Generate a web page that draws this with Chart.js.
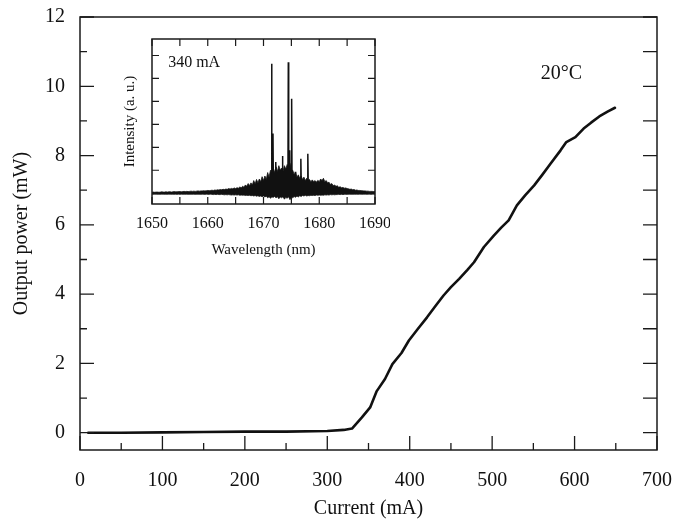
<!DOCTYPE html>
<html><head><meta charset="utf-8">
<script src="https://cdn.jsdelivr.net/npm/chart.js@4.4.0/dist/chart.umd.min.js"></script>
<style>
html,body{margin:0;padding:0;background:#fff;overflow:hidden}
#wrap{position:relative;width:689px;height:521px;background:#fff}
#main{position:absolute;left:0;top:0;width:689px;height:521px}
#inset{position:absolute;left:115px;top:30px;width:275px;height:235px}
</style></head><body>
<div id="wrap"><canvas id="main" width="689" height="521"></canvas><canvas id="inset" width="275" height="235"></canvas></div>
<script>
// ---- main L-I curve data ----
const currentMA = [10, 50, 100, 150, 200, 250, 300, 320, 330, 342, 352, 360, 370, 379, 390, 399, 410, 421, 431, 441, 450, 460, 470, 478, 490, 502, 511, 520, 530, 540, 551, 561, 571, 583, 590, 601, 611, 620, 630, 640, 649];
const powerMW   = [0, 0, 0.01, 0.02, 0.03, 0.03, 0.05, 0.08, 0.12, 0.44, 0.73, 1.2, 1.55, 1.98, 2.3, 2.66, 3.0, 3.33, 3.65, 3.96, 4.2, 4.44, 4.7, 4.92, 5.36, 5.69, 5.92, 6.13, 6.56, 6.85, 7.14, 7.45, 7.77, 8.15, 8.39, 8.53, 8.78, 8.95, 9.13, 9.27, 9.38];
const xTickValues = [0, 100, 200, 300, 400, 500, 600, 700];
const yTickValues = [0, 2, 4, 6, 8, 10, 12];
const xTitle = 'Current (mA)';
const yTitle = 'Output power (mW)';
const tempLabel = '20°C';
const tempLabelAt = [584, 10.36];

// ---- inset spectrum data (340 mA) ----
const wlStart = 1650, wlStep = 0.25;
const specTop = [
 0.04,0.05,0.04,0.05,0.05,0.04,0.05,0.06,0.05,0.05,0.06,0.05,0.06,0.06,0.05,0.06,0.07,0.06,0.06,0.07,0.07,
 0.06,0.07,0.08,0.07,0.08,0.07,0.08,0.09,0.08,0.09,0.08,0.09,0.10,0.09,0.10,0.10,0.11,0.10,0.11,0.12,
 0.11,0.12,0.13,0.12,0.14,0.13,0.15,0.14,0.16,0.15,0.17,0.16,0.18,0.17,0.20,0.18,0.21,0.19,0.23,0.20,
 0.24,0.22,0.27,0.24,0.30,0.26,0.36,0.30,0.42,0.33,0.45,0.36,0.55,0.40,0.60,0.45,0.62,0.50,0.72,0.55,
 0.75,0.60,0.90,0.70,1.00,0.85,1.10,0.90,1.15,0.95,1.20,1.00,1.10,0.95,1.20,1.05,1.25,1.10,1.30,1.00,
 1.00,0.80,0.90,0.70,0.80,0.65,0.75,0.60,0.70,0.55,0.65,0.55,0.60,0.50,0.58,0.50,0.55,0.48,0.56,0.50,
 0.62,0.55,0.65,0.50,0.55,0.45,0.48,0.38,0.42,0.33,0.36,0.30,0.32,0.26,0.28,0.24,0.25,0.22,0.23,0.20,
 0.19,0.17,0.18,0.15,0.16,0.13,0.14,0.12,0.12,0.11,0.11,0.10,0.10,0.09,0.09,0.08,0.08,0.08,0.07,0.07
];
const specBottom = [
 -0.04,-0.05,-0.04,-0.04,-0.05,-0.04,-0.05,-0.04,-0.04,-0.05,-0.04,-0.05,-0.04,-0.04,-0.05,-0.04,-0.05,-0.04,-0.05,-0.04,-0.05,
 -0.04,-0.05,-0.04,-0.05,-0.04,-0.05,-0.05,-0.04,-0.05,-0.04,-0.05,-0.05,-0.04,-0.05,-0.05,-0.04,-0.05,-0.05,-0.04,-0.05,
 -0.05,-0.04,-0.05,-0.06,-0.05,-0.06,-0.05,-0.06,-0.06,-0.05,-0.06,-0.07,-0.06,-0.07,-0.06,-0.07,-0.08,-0.07,-0.08,-0.07,
 -0.08,-0.07,-0.09,-0.08,-0.09,-0.08,-0.10,-0.09,-0.10,-0.09,-0.11,-0.10,-0.12,-0.10,-0.13,-0.11,-0.14,-0.12,-0.15,-0.12,
 -0.16,-0.13,-0.20,-0.15,-0.22,-0.16,-0.18,-0.14,-0.20,-0.15,-0.24,-0.16,-0.20,-0.15,-0.26,-0.18,-0.22,-0.15,-0.28,-0.16,
 -0.20,-0.14,-0.18,-0.12,-0.16,-0.11,-0.14,-0.10,-0.12,-0.09,-0.12,-0.10,-0.11,-0.09,-0.10,-0.09,-0.10,-0.08,-0.09,-0.08,
 -0.09,-0.08,-0.09,-0.07,-0.08,-0.07,-0.08,-0.06,-0.07,-0.06,-0.07,-0.06,-0.06,-0.05,-0.06,-0.05,-0.06,-0.05,-0.05,-0.05,
 -0.05,-0.04,-0.05,-0.05,-0.04,-0.05,-0.04,-0.05,-0.04,-0.04,-0.05,-0.04,-0.04,-0.05,-0.04,-0.04,-0.05,-0.04,-0.04,-0.04
];
const peakWl = [1671.45, 1671.7, 1672.2, 1673.4, 1674.45, 1674.7, 1675.05, 1675.7, 1676.7, 1677.95];
const peakH  = [5.64, 2.6, 1.36, 1.62, 5.71, 1.87, 4.12, 0.93, 1.5, 1.72];
const insetXTicks = [1650, 1660, 1670, 1680, 1690];
const insetXTitle = 'Wavelength (nm)';
const insetYTitle = 'Intensity (a. u.)';
const insetLabel = '340 mA';
const insetLabelAt = [1652.9, 5.7];

const SERIF = '"Liberation Serif", "Times New Roman", Times, serif';
const INK = '#111';

function noOverhang(s) { s.paddingLeft = 0; s.paddingRight = 0; s.paddingTop = 0; s.paddingBottom = 0; }

// ---------- main chart ----------
const mainFrame = {
  id: 'mainFrame',
  afterDraw(chart) {
    const {ctx, chartArea: a, scales: {x, y}} = chart;
    ctx.save();
    ctx.strokeStyle = '#1a1a1a';
    ctx.lineWidth = 1.5;
    ctx.strokeRect(a.left, a.top, a.right - a.left, a.bottom - a.top);
    ctx.lineWidth = 1.3;
    ctx.beginPath();
    for (let v = 0; v <= 700; v += 50) {
      const px = x.getPixelForValue(v);
      const L = v % 100 === 0 ? 14 : 7;
      ctx.moveTo(px, a.bottom); ctx.lineTo(px, a.bottom - L);
    }
    for (let v = 0; v <= 12; v += 1) {
      const py = y.getPixelForValue(v);
      const L = v % 2 === 0 ? 14 : 7;
      ctx.moveTo(a.left, py); ctx.lineTo(a.left + L, py);
      ctx.moveTo(a.right, py); ctx.lineTo(a.right - 14, py);
    }
    ctx.stroke();
    ctx.font = '20px ' + SERIF;
    ctx.fillStyle = INK;
    ctx.textAlign = 'center';
    ctx.textBaseline = 'middle';
    ctx.fillText(tempLabel, x.getPixelForValue(tempLabelAt[0]), y.getPixelForValue(tempLabelAt[1]));
    ctx.restore();
  }
};

new Chart(document.getElementById('main'), {
  type: 'line',
  data: {
    datasets: [{
      data: currentMA.map((c, i) => ({x: c, y: powerMW[i]})),
      borderColor: INK, borderWidth: 2.6, pointRadius: 0, tension: 0, fill: false,
      borderJoinStyle: 'round', borderCapStyle: 'round'
    }]
  },
  options: {
    responsive: false, animation: false, devicePixelRatio: 1,
    layout: {padding: {top: 17, right: 32, left: 0, bottom: 0}},
    plugins: {legend: {display: false}, tooltip: {enabled: false}},
    scales: {
      x: {
        type: 'linear', min: 0, max: 700,
        afterFit(s) { s.height = 71; noOverhang(s); },
        afterBuildTicks(s) { s.ticks = xTickValues.map(v => ({value: v})); },
        grid: {display: false, drawTicks: false}, border: {display: false},
        ticks: {font: {family: SERIF, size: 20}, color: INK, padding: 19, maxRotation: 0, autoSkip: false, callback: v => String(v)},
        title: {display: true, text: xTitle, font: {family: SERIF, size: 20}, color: INK, padding: {top: 0, bottom: 0}}
      },
      y: {
        type: 'linear', min: -0.5, max: 12,
        afterFit(s) { s.width = 80; noOverhang(s); },
        afterBuildTicks(s) { s.ticks = yTickValues.map(v => ({value: v})); },
        grid: {display: false, drawTicks: false}, border: {display: false},
        ticks: {font: {family: SERIF, size: 20}, color: INK, padding: 15, autoSkip: false, callback: v => String(v)},
        title: {display: true, text: yTitle, font: {family: SERIF, size: 20}, color: INK, padding: {top: 10, bottom: 0}}
      }
    }
  },
  plugins: [mainFrame]
});

// ---------- inset chart ----------
const wavelengths = specTop.map((_, i) => wlStart + i * wlStep);
const spikes = [];
peakWl.forEach((w, i) => {
  spikes.push({x: w - 0.07, y: 0.4}, {x: w, y: peakH[i]}, {x: w + 0.07, y: 0.4}, {x: w, y: null});
});

const insetFrame = {
  id: 'insetFrame',
  afterDraw(chart) {
    const {ctx, chartArea: a, scales: {x, y}} = chart;
    ctx.save();
    ctx.strokeStyle = '#1a1a1a';
    ctx.lineWidth = 1.5;
    ctx.strokeRect(a.left, a.top, a.right - a.left, a.bottom - a.top);
    ctx.lineWidth = 1.2;
    ctx.beginPath();
    for (let v = 1650; v <= 1690; v += 5) {
      const px = x.getPixelForValue(v);
      ctx.moveTo(px, a.bottom); ctx.lineTo(px, a.bottom - 7);
      ctx.moveTo(px, a.top); ctx.lineTo(px, a.top + 7);
    }
    for (let v = 0; v <= 6; v += 1) {
      const py = y.getPixelForValue(v);
      ctx.moveTo(a.left, py); ctx.lineTo(a.left + 7, py);
      ctx.moveTo(a.right, py); ctx.lineTo(a.right - 7, py);
    }
    ctx.stroke();
    ctx.font = '16px ' + SERIF;
    ctx.fillStyle = INK;
    ctx.textAlign = 'left';
    ctx.textBaseline = 'middle';
    ctx.fillText(insetLabel, x.getPixelForValue(insetLabelAt[0]), y.getPixelForValue(insetLabelAt[1]));
    ctx.restore();
  }
};

new Chart(document.getElementById('inset'), {
  type: 'line',
  data: {
    datasets: [
      {data: wavelengths.map((w, i) => ({x: w, y: specTop[i]})), borderColor: INK, borderWidth: 0.8,
       pointRadius: 0, tension: 0, fill: '+1', backgroundColor: INK},
      {data: wavelengths.map((w, i) => ({x: w, y: specBottom[i]})), borderColor: INK, borderWidth: 0.8,
       pointRadius: 0, tension: 0, fill: false},
      {data: spikes, borderColor: INK, borderWidth: 1.5, pointRadius: 0, tension: 0, fill: false, spanGaps: false}
    ]
  },
  options: {
    responsive: false, animation: false, devicePixelRatio: 1,
    layout: {padding: {top: 9, right: 15, left: 0, bottom: 0}},
    plugins: {legend: {display: false}, tooltip: {enabled: false}},
    scales: {
      x: {
        type: 'linear', min: 1650, max: 1690,
        afterFit(s) { s.height = 61; noOverhang(s); },
        afterBuildTicks(s) { s.ticks = insetXTicks.map(v => ({value: v})); },
        grid: {display: false, drawTicks: false}, border: {display: false},
        ticks: {font: {family: SERIF, size: 16}, color: INK, padding: 10, maxRotation: 0, autoSkip: false, callback: v => String(v)},
        title: {display: true, text: insetXTitle, font: {family: SERIF, size: 15}, color: INK, padding: {top: 0, bottom: 6}}
      },
      y: {
        type: 'linear', min: -0.47, max: 6.72,
        afterFit(s) { s.width = 37; noOverhang(s); },
        grid: {display: false, drawTicks: false}, border: {display: false},
        ticks: {display: false},
        title: {display: true, text: insetYTitle, font: {family: SERIF, size: 15}, color: INK, padding: {top: 6, bottom: 0}}
      }
    }
  },
  plugins: [insetFrame]
});
</script>
</body></html>
